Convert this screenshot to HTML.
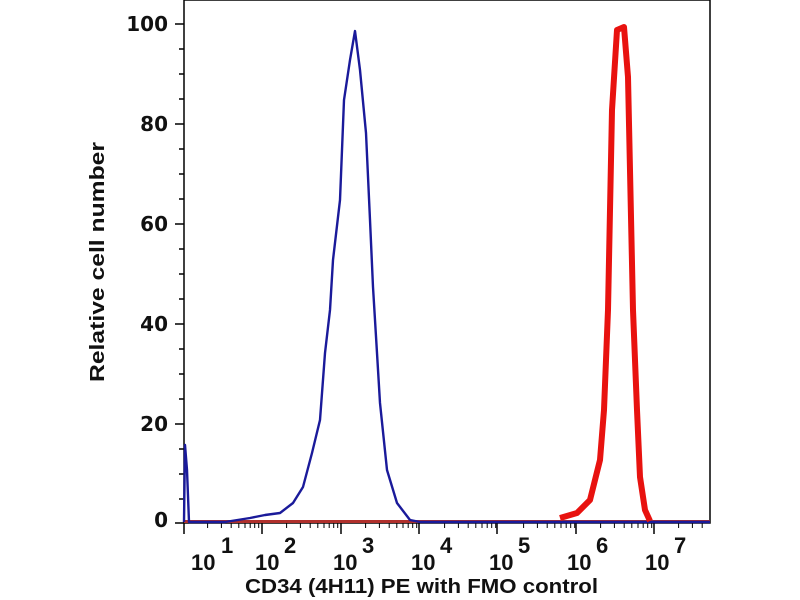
<!DOCTYPE html>
<html><head><style>
html,body{margin:0;padding:0;background:#fff;width:800px;height:600px;overflow:hidden}
svg text{font-weight:bold;fill:#111}
.dv{font-family:"DejaVu Sans","Liberation Sans",sans-serif}
.ls{font-family:"Liberation Sans",sans-serif}
</style></head><body>
<svg width="800" height="600" viewBox="0 0 800 600" xmlns="http://www.w3.org/2000/svg">
<rect x="184" y="0" width="526" height="523" fill="#fff" stroke="#000" stroke-width="1.5"/>
<g stroke="#000" stroke-width="1.5">
<line x1="175" y1="24" x2="184" y2="24"/><line x1="175" y1="124" x2="184" y2="124"/>
<line x1="175" y1="224" x2="184" y2="224"/><line x1="175" y1="324" x2="184" y2="324"/>
<line x1="175" y1="424" x2="184" y2="424"/><line x1="175" y1="523" x2="184" y2="523"/>
<line x1="179" y1="49" x2="184" y2="49"/><line x1="179" y1="74" x2="184" y2="74"/><line x1="179" y1="99" x2="184" y2="99"/>
<line x1="179" y1="149" x2="184" y2="149"/><line x1="179" y1="174" x2="184" y2="174"/><line x1="179" y1="199" x2="184" y2="199"/>
<line x1="179" y1="249" x2="184" y2="249"/><line x1="179" y1="274" x2="184" y2="274"/><line x1="179" y1="299" x2="184" y2="299"/>
<line x1="179" y1="349" x2="184" y2="349"/><line x1="179" y1="374" x2="184" y2="374"/><line x1="179" y1="399" x2="184" y2="399"/>
<line x1="179" y1="449" x2="184" y2="449"/><line x1="179" y1="474" x2="184" y2="474"/><line x1="179" y1="499" x2="184" y2="499"/>
</g>
<g class="dv" font-size="20" text-anchor="end">
<text class="dv" x="168" y="31">100</text><text class="dv" x="168" y="131">80</text><text class="dv" x="168" y="231">60</text>
<text class="dv" x="168" y="331">40</text><text class="dv" x="168" y="431">20</text><text class="dv" x="168" y="527">0</text>
</g>
<g stroke="#000" stroke-width="1.5">
<line x1="184" y1="523" x2="184" y2="534"/><line x1="262" y1="523" x2="262" y2="534"/>
<line x1="341" y1="523" x2="341" y2="534"/><line x1="419" y1="523" x2="419" y2="534"/>
<line x1="497" y1="523" x2="497" y2="534"/><line x1="576" y1="523" x2="576" y2="534"/>
<line x1="654" y1="523" x2="654" y2="534"/>
</g>
<g stroke="#000" stroke-width="1">
<path d="M207.6 523v5M221.4 523v5M231.2 523v5M238.8 523v5M245 523v5M250.2 523v5M254.7 523v5M258.7 523v5
M286.6 523v5M300.4 523v5M310.2 523v5M317.8 523v5M324 523v5M329.2 523v5M333.7 523v5M337.7 523v5
M365.6 523v5M379.4 523v5M389.2 523v5M396.8 523v5M403 523v5M408.2 523v5M412.7 523v5M416.7 523v5
M444.6 523v5M458.4 523v5M468.2 523v5M475.8 523v5M482 523v5M487.2 523v5M491.7 523v5M495.7 523v5
M523.6 523v5M537.4 523v5M547.2 523v5M554.8 523v5M561 523v5M566.2 523v5M570.7 523v5M574.7 523v5
M600.6 523v5M614.4 523v5M624.2 523v5M631.8 523v5M638 523v5M643.2 523v5M647.7 523v5M651.7 523v5
M678.6 523v5M692.4 523v5M702.2 523v5"/>
</g>
<g>
<text class="ls" font-size="22" x="191" y="570">10</text><text class="ls" font-size="22" x="221" y="553">1</text>
<text class="ls" font-size="22" x="255" y="570">10</text><text class="ls" font-size="22" x="284" y="553">2</text>
<text class="ls" font-size="22" x="333" y="570">10</text><text class="ls" font-size="22" x="362" y="553">3</text>
<text class="ls" font-size="22" x="411" y="570">10</text><text class="ls" font-size="22" x="440" y="553">4</text>
<text class="ls" font-size="22" x="489" y="570">10</text><text class="ls" font-size="22" x="518" y="553">5</text>
<text class="ls" font-size="22" x="567" y="570">10</text><text class="ls" font-size="22" x="596" y="553">6</text>
<text class="ls" font-size="22" x="645" y="570">10</text><text class="ls" font-size="22" x="674" y="553">7</text>
</g>
<text class="ls" x="245" y="593" font-size="20" textLength="353" lengthAdjust="spacingAndGlyphs">CD34 (4H11) PE with FMO control</text>
<text class="ls" transform="translate(104,382) rotate(-90)" font-size="20" textLength="240" lengthAdjust="spacingAndGlyphs">Relative cell number</text>
<line x1="184" y1="521.5" x2="710" y2="521.5" stroke="#b0302c" stroke-width="3"/>
<polyline fill="none" stroke="#1a1a9a" stroke-width="2.4" stroke-linejoin="round" points="184,522 185,445 187,470 189,522 225,522 250,518 265,515 280,513 293,503 303,487 312,453 320,420 325,353 330,310 333,260 340,200 344,100 350,60 355,31 360,70 366,133 370,220 373,287 377,353 380,403 387,470 397,503 410,520 420,522 710,522"/>
<polyline fill="none" stroke="#e8120f" stroke-width="6" stroke-linejoin="round" points="560,518 577,513 590,500 600,460 604,410 608,310 612,110 617,30 624,27 628,77 633,310 637,410 640,477 645,510 650,521"/>
</svg>
</body></html>
